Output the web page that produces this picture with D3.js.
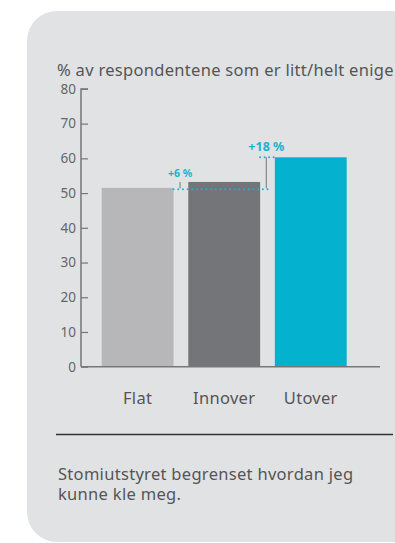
<!DOCTYPE html>
<html>
<head>
<meta charset="utf-8">
<script src="https://cdn.jsdelivr.net/npm/d3@7"></script>
<style>
  body { margin: 0; background: #fff; }
  svg { display: block; font-family: "Noto Sans", sans-serif; }
</style>
</head>
<body>
<div id="chart"></div>
<script>
const categories = ["Flat", "Innover", "Utover"];
const values = [51.5, 53.2, 60.3];
const colors = ["#b7b7b9", "#747578", "#04b2cf"];
const yTicks = [0, 10, 20, 30, 40, 50, 60, 70, 80];
const diffLabels = ["+6 %", "+18 %"];
const title = "% av respondentene som er litt/helt enige";
const footer = ["Stomiutstyret begrenset hvordan jeg", "kunne kle meg."];

const width = 395, height = 543;

const svg = d3.select("#chart").append("svg")
  .attr("width", width)
  .attr("height", height);

// grey card
svg.append("rect")
  .attr("x", 27).attr("y", 11)
  .attr("width", 420).attr("height", 531)
  .attr("rx", 30).attr("ry", 30)
  .attr("fill", "#e1e2e4");

svg.append("text")
  .attr("x", 57).attr("y", 76)
  .attr("font-size", 16.5)
  .attr("letter-spacing", 0.3)
  .attr("fill", "#555")
  .text(title);

const y = d3.scaleLinear().domain([0, 80]).range([366.7, 88.9]);
const x = d3.scaleBand().domain(categories).range([101.7, 346.7])
  .paddingInner(0.17).paddingOuter(0);

// y axis
const yAxis = svg.append("g")
  .attr("transform", "translate(81,0)")
  .call(d3.axisRight(y).tickValues(yTicks).tickSize(7).tickFormat(d3.format("d")));
yAxis.select(".domain").attr("d", `M7,${y(80)}H0V${y(0)}`).attr("stroke", "#777").attr("stroke-width", 1.5);
yAxis.selectAll(".tick line").attr("stroke", "#777").attr("stroke-width", 1.2);
yAxis.selectAll(".tick text")
  .attr("x", -5).attr("text-anchor", "end")
  .attr("font-size", 13.5).attr("fill", "#666")
  .attr("font-family", "Noto Sans, sans-serif");

// bars
svg.append("g").selectAll("rect")
  .data(categories)
  .join("rect")
  .attr("x", d => x(d))
  .attr("width", x.bandwidth())
  .attr("y", (d, i) => y(values[i]))
  .attr("height", (d, i) => y(0) - y(values[i]))
  .attr("fill", (d, i) => colors[i]);

// x baseline
svg.append("line")
  .attr("x1", 81).attr("x2", 380)
  .attr("y1", y(0)).attr("y2", y(0))
  .attr("stroke", "#777").attr("stroke-width", 1.5);

// x labels
svg.append("g").selectAll("text")
  .data(categories)
  .join("text")
  .attr("x", d => x(d) + x.bandwidth() / 2)
  .attr("y", 404)
  .attr("text-anchor", "middle")
  .attr("font-size", 16.5)
  .attr("letter-spacing", 0.3)
  .attr("fill", "#555")
  .text(d => d);

// difference annotations
const base = y(values[0]) + 1.5;
const cyan = "#1ab3cf";
const xA = x("Flat") + x.bandwidth() + 6.5;
const xB = x("Utover") - 8.5;

svg.append("line")
  .attr("x1", x("Flat") + x.bandwidth()).attr("x2", xB + 2)
  .attr("y1", base).attr("y2", base)
  .attr("stroke", cyan).attr("stroke-width", 2)
  .attr("stroke-linecap", "round").attr("stroke-dasharray", "0,4.7");
svg.append("line")
  .attr("x1", x("Innover") + x.bandwidth()).attr("x2", x("Utover"))
  .attr("y1", y(values[2])).attr("y2", y(values[2]))
  .attr("stroke", cyan).attr("stroke-width", 2)
  .attr("stroke-linecap", "round").attr("stroke-dasharray", "0,4.5");

[[xA, values[1]], [xB, values[2]]].forEach(([px, v]) => {
  svg.append("line")
    .attr("x1", px).attr("x2", px)
    .attr("y1", y(v)).attr("y2", base - 1)
    .attr("stroke", "#888").attr("stroke-width", 1.2);
});

svg.append("text")
  .attr("x", xA).attr("y", 177)
  .attr("text-anchor", "middle").attr("font-size", 10.5).attr("font-weight", "bold")
  .attr("fill", cyan).text(diffLabels[0]);
svg.append("text")
  .attr("x", xB).attr("y", 151)
  .attr("text-anchor", "middle").attr("font-size", 12.5).attr("font-weight", "bold")
  .attr("fill", cyan).text(diffLabels[1]);

// separator
svg.append("line")
  .attr("x1", 56).attr("x2", 393)
  .attr("y1", 434.5).attr("y2", 434.5)
  .attr("stroke", "#333").attr("stroke-width", 1.3);

svg.append("g").selectAll("text")
  .data(footer)
  .join("text")
  .attr("x", 58)
  .attr("y", (d, i) => 480 + i * 20)
  .attr("font-size", 16.5)
  .attr("letter-spacing", 0.3)
  .attr("fill", "#555")
  .text(d => d);
</script>
</body>
</html>
